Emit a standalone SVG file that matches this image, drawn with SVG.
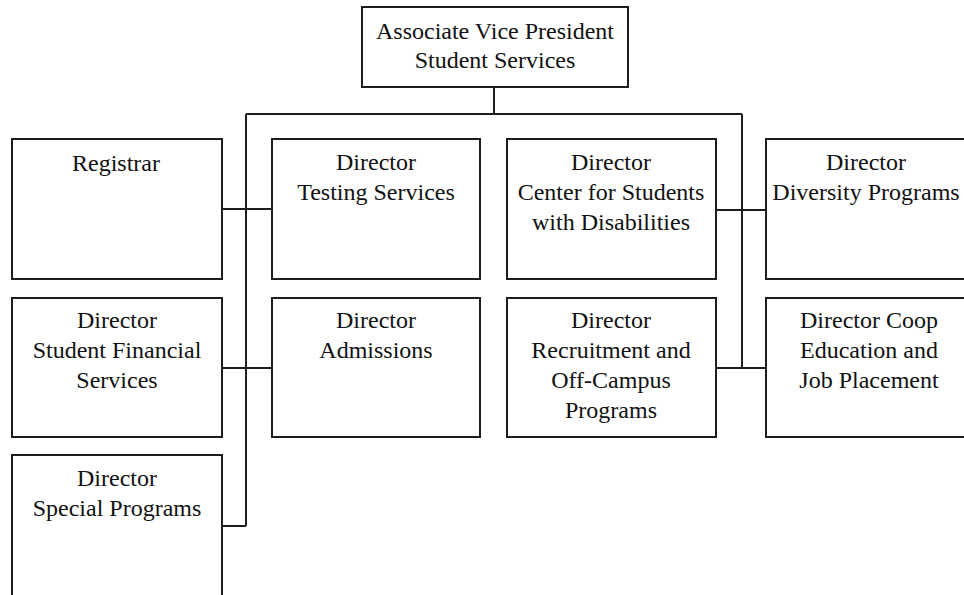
<svg xmlns="http://www.w3.org/2000/svg" width="964" height="595" viewBox="0 0 964 595">
  <style>
    .box { fill: #ffffff; stroke: #1e1e1e; stroke-width: 2; }
    .link { fill: none; stroke: #1e1e1e; stroke-width: 2; }
    text { font-family: "Liberation Serif", "Times New Roman", serif; font-size: 24px; fill: #111111; text-anchor: middle; }
  </style>
  <rect width="964" height="595" fill="#ffffff"/>

  <g id="connectors">
    <path class="link" d="M494 87 V114 M246 114 H742 M246 114 V526 M222 526 H246 M222 209 H272 M222 368 H272 M742 114 V368 M716 210 H766 M716 368 H766"/>
  </g>

  <g id="avp">
    <rect class="box" x="362" y="7" width="266" height="80"/>
    <text x="495" y="39">Associate Vice President</text>
    <text x="495" y="68">Student Services</text>
  </g>

  <g id="registrar">
    <rect class="box" x="12" y="139" width="210" height="140"/>
    <text x="116" y="171">Registrar</text>
  </g>

  <g id="testing">
    <rect class="box" x="272" y="139" width="208" height="140"/>
    <text x="376" y="170">Director</text>
    <text x="376" y="200">Testing Services</text>
  </g>

  <g id="disabilities">
    <rect class="box" x="507" y="139" width="209" height="140"/>
    <text x="611" y="170">Director</text>
    <text x="611" y="200">Center for Students</text>
    <text x="611" y="230">with Disabilities</text>
  </g>

  <g id="diversity">
    <rect class="box" x="766" y="139" width="210" height="140"/>
    <text x="866" y="170">Director</text>
    <text x="866" y="200">Diversity Programs</text>
  </g>

  <g id="financial">
    <rect class="box" x="12" y="298" width="210" height="139"/>
    <text x="117" y="328">Director</text>
    <text x="117" y="358">Student Financial</text>
    <text x="117" y="388">Services</text>
  </g>

  <g id="admissions">
    <rect class="box" x="272" y="298" width="208" height="139"/>
    <text x="376" y="328">Director</text>
    <text x="376" y="358">Admissions</text>
  </g>

  <g id="recruitment">
    <rect class="box" x="507" y="298" width="209" height="139"/>
    <text x="611" y="328">Director</text>
    <text x="611" y="358">Recruitment and</text>
    <text x="611" y="388">Off-Campus</text>
    <text x="611" y="418">Programs</text>
  </g>

  <g id="coop">
    <rect class="box" x="766" y="298" width="210" height="139"/>
    <text x="869" y="328">Director Coop</text>
    <text x="869" y="358">Education and</text>
    <text x="869" y="388">Job Placement</text>
  </g>

  <g id="special">
    <rect class="box" x="12" y="455" width="210" height="142"/>
    <text x="117" y="486">Director</text>
    <text x="117" y="516">Special Programs</text>
  </g>
</svg>
